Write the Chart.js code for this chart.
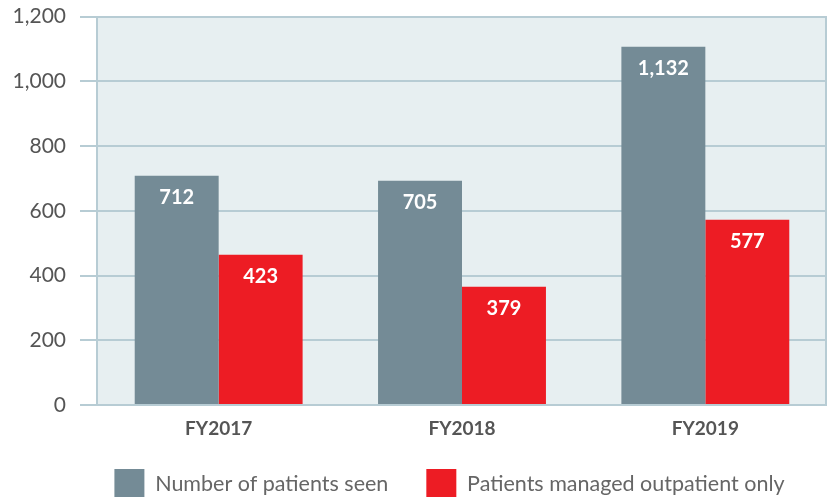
<!DOCTYPE html>
<html lang="en">
<head>
    <meta charset="UTF-8">
    <title>Patients seen FY2017-FY2019</title>
    <script src="https://cdn.jsdelivr.net/npm/chart.js"></script>
    <style>
        html, body { margin: 0; padding: 0; background: #fff; overflow: hidden; }
        .wrap { width: 830px; height: 533px; position: relative; top: -10px; }
    </style>
</head>
<body>
    <div class="wrap">
        <canvas id="patientsChart"></canvas>
    </div>

    <script>
const years = ['FY2017', 'FY2018', 'FY2019'];
const seriesNames = ['Number of patients seen', 'Patients managed outpatient only'];
// bar heights as drawn in the picture
const seenBars = [708, 693, 1107];
const outpatientBars = [464, 365, 572];
// numbers printed on the bars
const seenLabels = ['712', '705', '1,132'];
const outpatientLabels = ['423', '379', '577'];
const yTicks = [0, 200, 400, 600, 800, 1000, 1200];

const gridColor = '#b7ccd4';

const plotBox = {
    id: 'plotBox',
    beforeDraw(chart) {
        const { ctx, chartArea: a } = chart;
        ctx.save();
        ctx.fillStyle = '#e7eff1';
        ctx.fillRect(a.left, a.top, a.right - a.left, a.bottom - a.top);
        ctx.restore();
    },
    afterDraw(chart) {
        const { ctx, chartArea: a } = chart;
        ctx.save();
        ctx.strokeStyle = gridColor;
        ctx.lineWidth = 2;
        ctx.beginPath();
        ctx.moveTo(a.right - 1, a.top);
        ctx.lineTo(a.right - 1, a.bottom);
        ctx.stroke();
        ctx.restore();
    }
};

// nudge the legend right and up, like the original layout
const legendShift = {
    id: 'legendShift',
    afterLayout(chart) {
        const lg = chart.legend;
        lg.left += 36;
        lg.right += 36;
        lg.top -= 14;
        lg.bottom -= 14;
    }
};

const barLabels = {
    id: 'barLabels',
    afterDatasetsDraw(chart) {
        const ctx = chart.ctx;
        const texts = [seenLabels, outpatientLabels];
        ctx.save();
        ctx.fillStyle = '#ffffff';
        ctx.font = 'bold 20px Lato';
        ctx.textAlign = 'center';
        ctx.textBaseline = 'middle';
        chart.data.datasets.forEach((ds, i) => {
            chart.getDatasetMeta(i).data.forEach((bar, j) => {
                ctx.fillText(texts[i][j], bar.x, bar.y + 22);
            });
        });
        ctx.restore();
    }
};

new Chart(document.getElementById('patientsChart'), {
    type: 'bar',
    data: {
        labels: years,
        datasets: [{
            label: seriesNames[0],
            data: seenBars,
            backgroundColor: '#748b96'
        }, {
            label: seriesNames[1],
            data: outpatientBars,
            backgroundColor: '#ed1c24'
        }]
    },
    options: {
        responsive: true,
        maintainAspectRatio: false,
        animation: false,
        layout: { padding: { top: 4, right: 3, left: 0, bottom: 0 } },
        datasets: {
            bar: { categoryPercentage: 0.69, barPercentage: 1.0 }
        },
        plugins: {
            tooltip: { enabled: false },
            legend: {
                position: 'bottom',
                labels: {
                    boxWidth: 30,
                    boxHeight: 30,
                    padding: 38,
                    color: '#666666',
                    font: { family: 'Lato', size: 21.5 }
                }
            }
        },
        scales: {
            x: {
                grid: { display: false },
                border: { display: false },
                ticks: {
                    color: '#555555',
                    font: { family: 'Lato', size: 19, weight: 'bold' },
                    padding: 4
                },
                afterFit(scale) { scale.height = 40; }
            },
            y: {
                min: 0,
                max: 1200,
                afterBuildTicks(scale) {
                    scale.ticks = yTicks.map(v => ({ value: v }));
                },
                ticks: {
                    color: '#555555',
                    font: { family: 'Lato', size: 21 },
                    padding: 14,
                    callback: v => v.toLocaleString('en-US')
                },
                grid: {
                    color: gridColor,
                    lineWidth: 2,
                    tickLength: 17
                },
                border: { color: gridColor, width: 2 },
                afterFit(scale) { scale.width = 97; }
            }
        }
    },
    plugins: [plotBox, legendShift, barLabels]
});
</script>
</body>
</html>
